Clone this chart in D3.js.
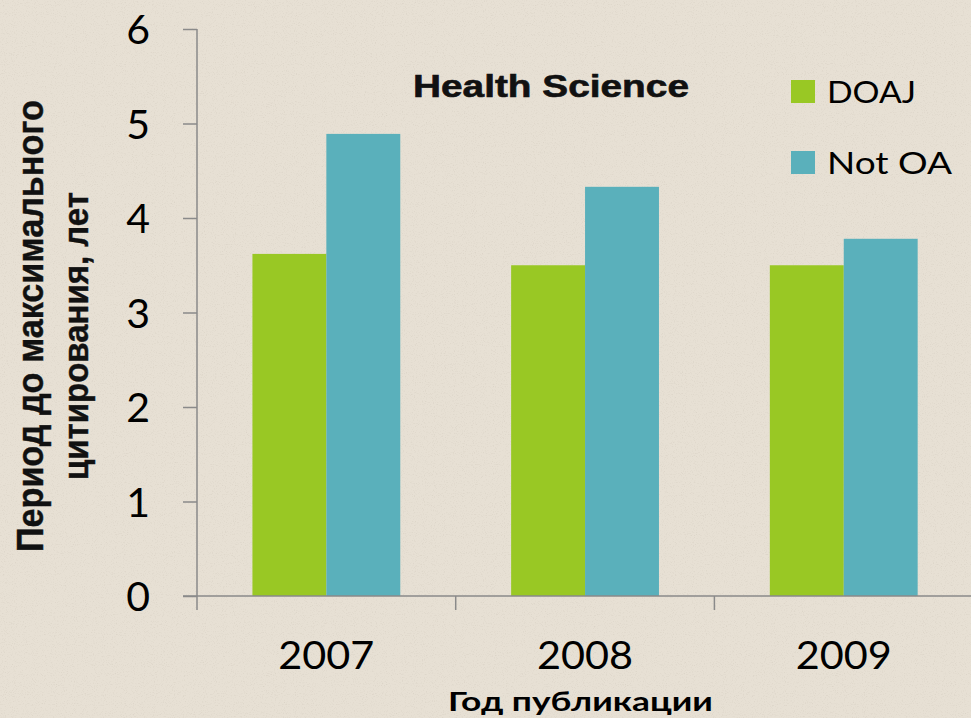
<!DOCTYPE html>
<html>
<head>
<meta charset="utf-8">
<script src="https://cdn.jsdelivr.net/npm/d3@7"></script>
<style>
  html, body { margin: 0; padding: 0; background: #e7e0d4; }
  svg { display: block; }
</style>
</head>
<body>
<svg></svg>
<script>
var width = 971;
var height = 718;

// data
var years = ["2007", "2008", "2009"];
var seriesNames = ["DOAJ", "Not OA"];
var doaj = [3.62, 3.50, 3.50];
var notOA = [4.89, 4.33, 3.78];
var yTicks = [0, 1, 2, 3, 4, 5, 6];
var colors = ["#99c824", "#5ab0bb"];

var chartTitle = "Health Science";
var yTitle = ["Период до максимального", "цитирования, лет"];
var xTitle = "Год публикации";

var margin = { top: 29, left: 197, bottom: 122 };
var plotBottom = height - margin.bottom; // y of zero line
var catWidth = 258.7;

var svg = d3.select("svg")
    .attr("width", width)
    .attr("height", height);

// squeeze/stretch a text horizontally so it spans a given width
function fitText(sel, target) {
    sel.each(function() {
        var node = this;
        var w = node.getComputedTextLength();
        var s = target / w;
        var x = +node.getAttribute("x") || 0;
        var y = +node.getAttribute("y") || 0;
        node.setAttribute("x", 0);
        node.setAttribute("y", 0);
        node.setAttribute("transform", "translate(" + x + "," + y + ") scale(" + s + ",1)");
    });
}

// textured paper background
var defs = svg.append("defs");
var filt = defs.append("filter").attr("id", "paper")
    .attr("x", 0).attr("y", 0).attr("width", "100%").attr("height", "100%");
filt.append("feTurbulence")
    .attr("type", "fractalNoise")
    .attr("baseFrequency", 0.9)
    .attr("numOctaves", 2)
    .attr("seed", 3)
    .attr("result", "noise");
filt.append("feColorMatrix")
    .attr("in", "noise")
    .attr("type", "matrix")
    .attr("values", "0 0 0 0 0.45  0 0 0 0 0.40  0 0 0 0 0.33  0 0 0 -1.6 0.75");

svg.append("rect")
    .attr("width", width).attr("height", height)
    .attr("fill", "#e7e0d4");
svg.append("rect")
    .attr("width", width).attr("height", height)
    .attr("filter", "url(#paper)")
    .attr("opacity", 0.35);

var data = years.map(function(y, i) {
    return { year: y, values: [doaj[i], notOA[i]] };
});

var x_scale = d3.scaleBand()
    .domain(years)
    .range([margin.left, margin.left + catWidth * years.length])
    .paddingInner(0)
    .paddingOuter(0);

// gap width 150% -> each bar = cat / 3.5
var barW = catWidth / 3.5;
var x_inner = d3.scaleBand()
    .domain(seriesNames)
    .range([0, barW * 2]);

var y_scale = d3.scaleLinear()
    .domain([0, 6])
    .range([plotBottom, margin.top]);

// bars
var groups = svg.append("g").selectAll("g")
    .data(data)
    .enter().append("g")
    .attr("transform", function(d) {
        return "translate(" + (x_scale(d.year) + (catWidth - barW * 2) / 2) + ",0)";
    });

groups.selectAll("rect")
    .data(function(d) { return d.values.map(function(v, i) { return { key: seriesNames[i], value: v, i: i }; }); })
    .enter().append("rect")
    .attr("x", function(d) { return x_inner(d.key); })
    .attr("width", x_inner.bandwidth())
    .attr("y", function(d) { return y_scale(d.value); })
    .attr("height", function(d) { return plotBottom - y_scale(d.value); })
    .attr("fill", function(d) { return colors[d.i]; });

// y axis
var y_axis = d3.axisLeft(y_scale)
    .tickValues(yTicks)
    .tickFormat(d3.format("d"))
    .tickSize(14)
    .tickPadding(33)
    .tickSizeOuter(0);

var gy = svg.append("g")
    .attr("transform", "translate(" + margin.left + ",0)")
    .call(y_axis);
gy.select(".domain").attr("stroke", "#8a8a8a").attr("stroke-width", 1.5)
    .attr("d", "M0," + margin.top + "V" + plotBottom);
gy.selectAll(".tick line").attr("stroke", "#8a8a8a").attr("stroke-width", 1.5);
gy.selectAll(".tick text")
    .attr("font-family", "Lato, sans-serif")
    .attr("font-size", 41)
    .attr("fill", "#000")
    .attr("dy", "0.36em");

// x axis
var x_axis = d3.axisBottom(x_scale)
    .tickSize(0)
    .tickPadding(0)
    .tickSizeOuter(0);

var gx = svg.append("g")
    .attr("transform", "translate(0," + plotBottom + ")")
    .call(x_axis);
gx.select(".domain").attr("stroke", "#8a8a8a").attr("stroke-width", 1.5)
    .attr("d", "M" + (margin.left - 14) + ",0H" + width);
gx.selectAll(".tick text")
    .attr("font-family", "Lato, sans-serif")
    .attr("font-size", 38)
    .attr("fill", "#000")
    .attr("y", 73)
    .attr("dy", 0)
    .call(fitText, 96);

// category divider ticks
var dividers = years.map(function(y) { return x_scale(y); }).concat([x_scale.range()[1]]);
gx.selectAll(".divider")
    .data(dividers)
    .enter().append("line")
    .attr("class", "divider")
    .attr("x1", function(d) { return d; })
    .attr("x2", function(d) { return d; })
    .attr("y1", 0)
    .attr("y2", 14)
    .attr("stroke", "#8a8a8a")
    .attr("stroke-width", 1.5);

// chart title
svg.append("text")
    .attr("x", 413)
    .attr("y", 97)
    .attr("font-family", "'Liberation Sans', Arial, sans-serif")
    .attr("font-weight", "bold")
    .attr("font-size", 31)
    .attr("fill", "#111")
    .attr("stroke", "#111")
    .attr("stroke-width", 0.6)
    .text(chartTitle)
    .call(fitText, 276);

// legend
var legend = svg.append("g").selectAll("g")
    .data(seriesNames)
    .enter().append("g")
    .attr("transform", function(d, i) { return "translate(791," + (80 + i * 71) + ")"; });
legend.append("rect")
    .attr("width", 24)
    .attr("height", 23)
    .attr("fill", function(d, i) { return colors[i]; });
legend.append("text")
    .attr("x", 36)
    .attr("y", 23)
    .attr("font-family", "Lato, sans-serif")
    .attr("font-size", 31)
    .attr("fill", "#000")
    .text(function(d) { return d; })
    .each(function(d, i) { d3.select(this).call(fitText, i === 0 ? 89 : 125); });

// y title (two lines, rotated)
var yt = svg.append("g")
    .attr("transform", "translate(0,326) rotate(-90)");
yt.append("text")
    .attr("x", -226)
    .attr("y", 43)
    .attr("font-family", "'Liberation Sans', Arial, sans-serif")
    .attr("font-weight", "bold")
    .attr("font-size", 36)
    .attr("fill", "#111")
    .attr("stroke", "#111")
    .attr("stroke-width", 0.4)
    .text(yTitle[0])
    .call(fitText, 452);
yt.append("text")
    .attr("x", -154)
    .attr("y", 88)
    .attr("font-family", "'Liberation Sans', Arial, sans-serif")
    .attr("font-weight", "bold")
    .attr("font-size", 36)
    .attr("fill", "#111")
    .attr("stroke", "#111")
    .attr("stroke-width", 0.4)
    .text(yTitle[1])
    .call(fitText, 288);

// x title
svg.append("text")
    .attr("x", 448)
    .attr("y", 711)
    .attr("font-family", "Lato, sans-serif")
    .attr("font-weight", "bold")
    .attr("font-size", 27)
    .attr("fill", "#000")
    .text(xTitle)
    .call(fitText, 265);
</script>
</body>
</html>
